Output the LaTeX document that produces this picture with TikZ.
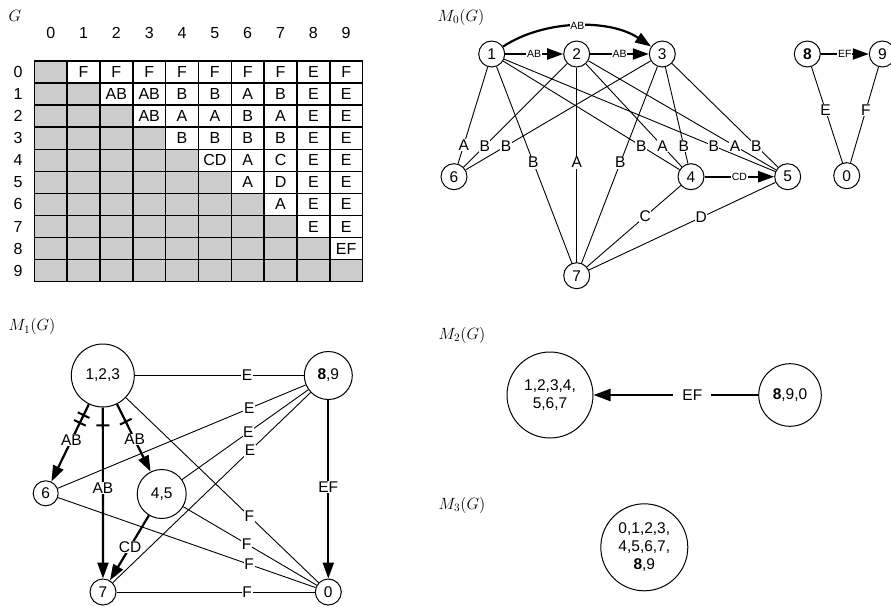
\documentclass[tikz,border=0pt]{standalone}
\usepackage[no-math]{fontspec}
\setmainfont{Liberation Sans}
\usetikzlibrary{arrows.meta,decorations.markings}
\newcommand{\ttlbox}[1]{\scalebox{1.13}{#1}}
\begin{document}
\begin{tikzpicture}[x=1pt,y=-1pt,
  vtx/.style={circle,draw,line width=1pt,inner sep=0pt,minimum size=26pt,font=\fontsize{15.5}{18}\selectfont},
  edg/.style={line width=0.9pt},
  lbl/.style={fill=white,inner sep=0.6pt,font=\fontsize{15.5}{17}\selectfont},
  slbl/.style={fill=white,inner sep=0.8pt,font=\fontsize{10.5}{12}\selectfont},
  arr/.style={line width=2.2pt,-{Triangle[length=16pt,width=11pt]}},
  ttl/.style={font=\fontsize{14.4}{17}\selectfont,inner sep=0pt},
  cell/.style={font=\fontsize{16}{18}\selectfont,inner sep=0pt},
  tickone/.style={postaction={decorate,decoration={markings,
     mark=at position #1 with {\draw[line width=2pt,arrows=-] (0,-6.5pt) -- (0,6.5pt);}}}},
]
\useasboundingbox (0,0) rectangle (891,606);

% ---------------- matrix G ----------------
\def\cx{34.3}\def\cw{32.83}\def\ry{61}\def\rh{22.07}
\node[ttl] (tG) at (15,16) {\ttlbox{$G$}};
\foreach \i in {0,...,9}{
  \foreach \j in {0,...,\i}{
    \fill[gray!40] ({\cx+\cw*\j},{\ry+\rh*\i}) rectangle ++(\cw,\rh);
  }
}
\foreach \k in {0,...,10}{
  \draw[line width=1.5pt,line cap=rect] ({\cx+\cw*\k},\ry) -- ++(0,{10*\rh});
  \draw[line width=1.5pt,line cap=rect] (\cx,{\ry+\rh*\k}) -- ++({10*\cw},0);
}
\foreach \k in {0,...,9}{
  \node[cell] (ch\k) at ({\cx+\cw*(\k+0.5)},33) {\k};
  \node[cell] (rh\k) at (18,{\ry+\rh*(\k+0.5)}) {\k};
}
\foreach \i/\j/\t in {0/1/F,0/2/F,0/3/F,0/4/F,0/5/F,0/6/F,0/7/F,0/8/E,0/9/F,
  1/2/AB,1/3/AB,1/4/B,1/5/B,1/6/A,1/7/B,1/8/E,1/9/E,
  2/3/AB,2/4/A,2/5/A,2/6/B,2/7/A,2/8/E,2/9/E,
  3/4/B,3/5/B,3/6/B,3/7/B,3/8/E,3/9/E,
  4/5/CD,4/6/A,4/7/C,4/8/E,4/9/E,
  5/6/A,5/7/D,5/8/E,5/9/E,
  6/7/A,6/8/E,6/9/E,
  7/8/E,7/9/E,
  8/9/EF}{
  \node[cell] (c\i\j) at ({\cx+\cw*(\j+0.5)},{\ry+\rh*(\i+0.5)}) {\t};
}

% ---------------- M0 ----------------
\node[ttl] (t0) at (461,17) {\ttlbox{$M_0(G)$}};
\node[vtx] (m1) at (491.7,54) {1};
\node[vtx] (m2) at (576.7,54) {2};
\node[vtx] (m3) at (662.3,54) {3};
\node[vtx] (m8) at (807.3,54) {\textbf{8}};
\node[vtx] (m9) at (882.3,54) {9};
\node[vtx] (m6) at (454,176.7) {6};
\node[vtx] (m4) at (691,176.7) {4};
\node[vtx] (m5) at (787.7,176.7) {5};
\node[vtx] (m0) at (846.7,175.7) {0};
\node[vtx] (m7) at (576.7,275.7) {7};

\foreach \a/\b in {m1/m6,m2/m6,m3/m6,m1/m4,m2/m4,m3/m4,m1/m5,m2/m5,m3/m5,
  m1/m7,m2/m7,m3/m7,m4/m7,m5/m7,m8/m0,m9/m0}
  \draw[edg] (\a) -- (\b);

\foreach \a/\b/\t/\p in {m1/m6/A/0.74,m2/m6/B/0.75,m3/m6/B/0.75,
  m1/m4/B/0.75,m2/m4/A/0.75,m3/m4/B/0.75,
  m1/m5/B/0.75,m2/m5/A/0.75,m3/m5/B/0.75,
  m1/m7/B/0.49,m2/m7/A/0.49,m3/m7/B/0.49,
  m4/m7/C/0.40,m5/m7/D/0.41,m8/m0/E/0.46,m9/m0/F/0.46}
  \path (\a.center) -- (\b.center) node[lbl,pos=\p] (l\a\b) {\t};

\draw[arr] (m1) -- node[slbl] (l12) {AB} (m2);
\draw[arr] (m2) -- node[slbl] (l23) {AB} (m3);
\draw[arr] (m1) .. controls (545,19) and (610,19) .. node[slbl] (l13) {AB} (m3);
\draw[arr] (m4) -- node[slbl] (l45) {CD} (m5);
\draw[arr] (m8) -- node[slbl] (l89) {EF} (m9);

% ---------------- M1 ----------------
\node[ttl] (t1) at (32,326.7) {\ttlbox{$M_1(G)$}};
\node[vtx,minimum size=63pt] (a123) at (102.8,375.5) {1,2,3};
\node[vtx,minimum size=48pt] (a89) at (328.3,375.5) {\textbf{8},9};
\node[vtx,minimum size=25pt] (a6) at (45.7,493.3) {6};
\node[vtx,minimum size=49pt] (a45) at (161.7,494) {4,5};
\node[vtx,minimum size=26pt] (a7) at (103,592) {7};
\node[vtx,minimum size=26pt] (a0) at (328.3,592) {0};

\foreach \a/\b in {a123/a89,a89/a6,a89/a45,a89/a7,a123/a0,a45/a0,a6/a0,a7/a0}
  \draw[edg] (\a) -- (\b);
\foreach \a/\b/\t/\p in {a123/a89/E/0.64,a89/a6/E/0.28,a89/a45/E/0.48,a89/a7/E/0.347,
  a123/a0/F/0.65,a45/a0/F/0.51,a6/a0/F/0.72,a7/a0/F/0.64}
  \path (\a.center) -- (\b.center) node[lbl,pos=\p] (l\a\b) {\t};

\draw[arr] (a89) -- (a0);
\draw[arr,tickone=0.14,tickone=0.24] (a123) -- (a6);
\draw[arr,tickone=0.105] (a123) -- (a7);
\draw[arr,tickone=0.26] (a123) -- (a45);
\draw[arr] (a45) -- (a7);
\foreach \a/\b/\t/\p in {a89/a0/EF/0.516,a123/a6/AB/0.55,a123/a7/AB/0.52,
  a123/a45/AB/0.54,a45/a7/CD/0.54}
  \path (\a.center) -- (\b.center) node[lbl,pos=\p] (k\a\b) {\t};

% ---------------- M2 ----------------
\node[ttl] (t2) at (462,335) {\ttlbox{$M_2(G)$}};
\node[vtx,minimum size=86pt,align=center] (b1) at (550,395) {1,2,3,4,\\5,6,7};
\node[vtx,minimum size=62.6pt] (b2) at (790,395) {\textbf{8},9,0};
\draw[arr,-{Triangle[length=17pt,width=12pt]}] (b2) -- node[lbl,pos=0.4,inner xsep=9pt] (lb) {EF} (b1);

% ---------------- M3 ----------------
\node[ttl] (t3) at (462,505) {\ttlbox{$M_3(G)$}};
\node[vtx,minimum size=87pt,align=center] (c1) at (644.3,547.3) {0,1,2,3,\\4,5,6,7,\\\textbf{8},9};
\end{tikzpicture}
\end{document}
